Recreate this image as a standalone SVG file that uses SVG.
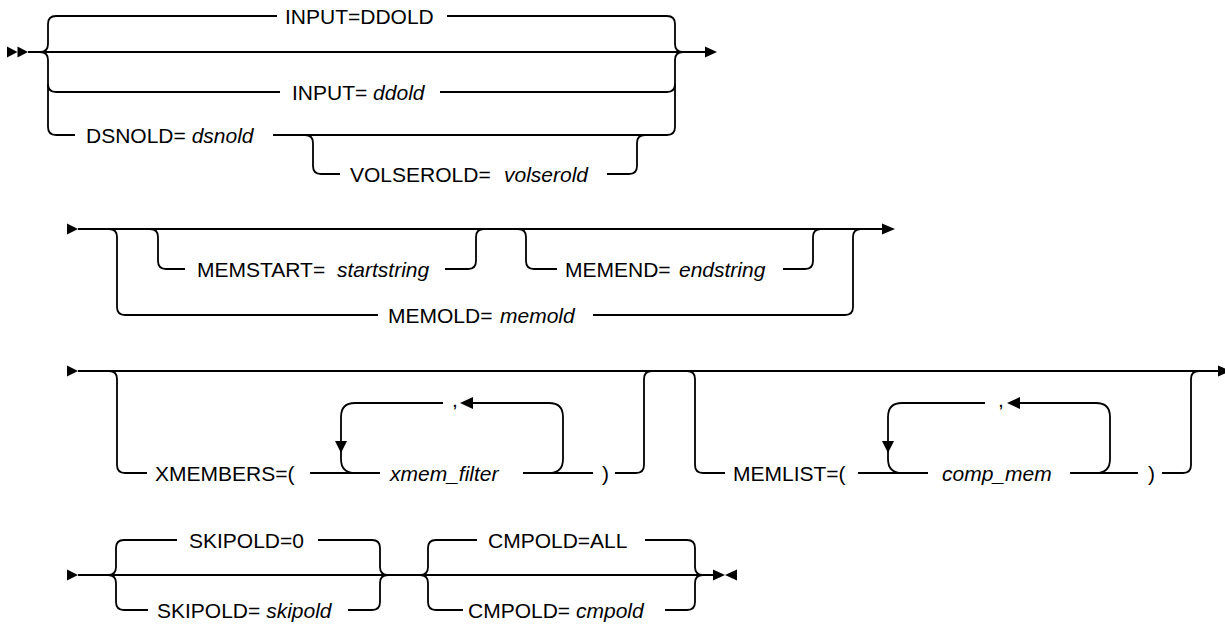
<svg xmlns="http://www.w3.org/2000/svg" width="1225" height="626" viewBox="0 0 1225 626">
<style>
  .ln{fill:none;stroke:#000;stroke-width:1.8;stroke-linecap:butt;stroke-linejoin:round}
  .ah{fill:#000;stroke:none}
  text{font-family:"Liberation Sans",Arial,sans-serif;font-size:21px;fill:#000}
  .v{font-style:italic}
</style>
<rect width="1225" height="626" fill="#fff"/>
<g id="connectors">
  <!-- Row 1 -->
  <polygon class="ah" points="7,46.5 17.5,52 7,57.5"/>
  <polygon class="ah" points="17.5,46.5 28,52 17.5,57.5"/>
  <path class="ln" d="M28,52 H705"/>
  <polygon class="ah" points="705,46.5 717,52 705,57.5"/>
  <path class="ln" d="M40,52 Q48,52 48,44 V24 Q48,16 56,16 H277"/>
  <path class="ln" d="M40,52 Q48,52 48,60 V127 Q48,135 56,135 H75"/>
  <path class="ln" d="M48,84 Q48,92 56,92 H280"/>
  <path class="ln" d="M447,16 H667 Q675,16 675,24 V44 Q675,52 683,52"/>
  <path class="ln" d="M440,92 H667 Q675,92 675,84"/>
  <path class="ln" d="M273,135 H667 Q675,135 675,127 V60 Q675,52 683,52"/>
  <path class="ln" d="M305,135 Q313,135 313,143 V166 Q313,174 321,174 H340"/>
  <path class="ln" d="M607,174 H629 Q637,174 637,166 V143 Q637,135 645,135"/>
  <!-- Row 2 -->
  <polygon class="ah" points="67,223.5 78,229 67,234.5"/>
  <path class="ln" d="M78,229 H882"/>
  <polygon class="ah" points="882,223.5 895,229 882,234.5"/>
  <path class="ln" d="M109,229 Q117,229 117,237 V307 Q117,315 125,315 H378"/>
  <path class="ln" d="M593,315 H845 Q853,315 853,307 V237 Q853,229 861,229"/>
  <path class="ln" d="M150,229 Q158,229 158,237 V261 Q158,269 166,269 H185"/>
  <path class="ln" d="M445,269 H468 Q476,269 476,261 V237 Q476,229 484,229"/>
  <path class="ln" d="M518,229 Q526,229 526,237 V261 Q526,269 534,269 H557"/>
  <path class="ln" d="M783,269 H805 Q813,269 813,261 V237 Q813,229 821,229"/>
  <!-- Row 3 -->
  <polygon class="ah" points="67,365.5 78,371 67,376.5"/>
  <path class="ln" d="M78,371 H1218"/>
  <polygon class="ah" points="1218,365.5 1231,371 1218,376.5"/>
  <path class="ln" d="M109,371 Q117,371 117,379 V465 Q117,473 125,473 H147"/>
  <path class="ln" d="M310,473 H380"/>
  <path class="ln" d="M523,473 H593"/>
  <path class="ln" d="M615,473 H636 Q644,473 644,465 V379 Q644,371 652,371"/>
  <path class="ln" d="M443,403 H355 Q341,403 341,417 V459 Q341,473 355,473"/>
  <polygon class="ah" points="335,441 347,441 341,453"/>
  <path class="ln" d="M473,403 H549 Q563,403 563,417 V459 Q563,473 549,473"/>
  <polygon class="ah" points="473,397 473,409 460,403"/>
  <path class="ln" d="M687,371 Q695,371 695,379 V465 Q695,473 703,473 H725"/>
  <path class="ln" d="M858,473 H928"/>
  <path class="ln" d="M1070,473 H1138"/>
  <path class="ln" d="M1162,473 H1183 Q1191,473 1191,465 V379 Q1191,371 1199,371"/>
  <path class="ln" d="M985,403 H902 Q888,403 888,417 V459 Q888,473 902,473"/>
  <polygon class="ah" points="882,441 894,441 888,453"/>
  <path class="ln" d="M1020,403 H1096 Q1110,403 1110,417 V459 Q1110,473 1096,473"/>
  <polygon class="ah" points="1020,397 1020,409 1007,403"/>
  <!-- Row 4 -->
  <polygon class="ah" points="67,569.5 78,575 67,580.5"/>
  <path class="ln" d="M78,575 H713"/>
  <path class="ln" d="M108,575 Q116,575 116,567 V548 Q116,540 124,540 H177"/>
  <path class="ln" d="M108,575 Q116,575 116,583 V602 Q116,610 124,610 H148"/>
  <path class="ln" d="M318,540 H372 Q380,540 380,548 V567 Q380,575 388,575"/>
  <path class="ln" d="M348,610 H372 Q380,610 380,602 V583 Q380,575 388,575"/>
  <path class="ln" d="M420,575 Q428,575 428,567 V548 Q428,540 436,540 H477"/>
  <path class="ln" d="M420,575 Q428,575 428,583 V602 Q428,610 436,610 H463"/>
  <path class="ln" d="M645,540 H687 Q695,540 695,548 V567 Q695,575 703,575"/>
  <path class="ln" d="M665,610 H687 Q695,610 695,602 V583 Q695,575 703,575"/>
  <polygon class="ah" points="713,569.5 725,575 713,580.5"/>
  <polygon class="ah" points="737,569.5 725,575 737,580.5"/>
</g>
<g id="n-input-ddold-default"><text x="285" y="23.5">INPUT=DDOLD</text></g>
<g id="n-input-ddold"><text x="292" y="99.5">INPUT= <tspan class="v">ddold</tspan></text></g>
<g id="n-dsnold"><text x="86" y="142.5">DSNOLD= <tspan class="v">dsnold</tspan></text></g>
<g id="n-volserold"><text x="350" y="181.5">VOLSEROLD=<tspan class="v" x="504">volserold</tspan></text></g>
<g id="n-memstart"><text x="197" y="276.5">MEMSTART=<tspan class="v" x="337">startstring</tspan></text></g>
<g id="n-memend"><text x="565" y="276.5">MEMEND=<tspan class="v" x="679">endstring</tspan></text></g>
<g id="n-memold"><text x="388" y="322.5">MEMOLD=<tspan class="v" x="500">memold</tspan></text></g>
<g id="n-xmembers"><text x="155" y="480.5">XMEMBERS=(</text></g>
<g id="n-xmem-filter"><text class="v" x="390" y="480.5">xmem_filter</text></g>
<g id="n-xmem-close"><text x="602" y="480.5">)</text></g>
<g id="n-xmem-comma"><text x="452" y="407">,</text></g>
<g id="n-memlist"><text x="733" y="480.5">MEMLIST=(</text></g>
<g id="n-comp-mem"><text class="v" x="942" y="480.5">comp_mem</text></g>
<g id="n-memlist-close"><text x="1148" y="480.5">)</text></g>
<g id="n-memlist-comma"><text x="998" y="407">,</text></g>
<g id="n-skipold-default"><text x="189" y="547.5">SKIPOLD=0</text></g>
<g id="n-skipold"><text x="157" y="617.5">SKIPOLD= <tspan class="v">skipold</tspan></text></g>
<g id="n-cmpold-default"><text x="488" y="547.5">CMPOLD=ALL</text></g>
<g id="n-cmpold"><text x="468" y="617.5">CMPOLD= <tspan class="v">cmpold</tspan></text></g>
</svg>
